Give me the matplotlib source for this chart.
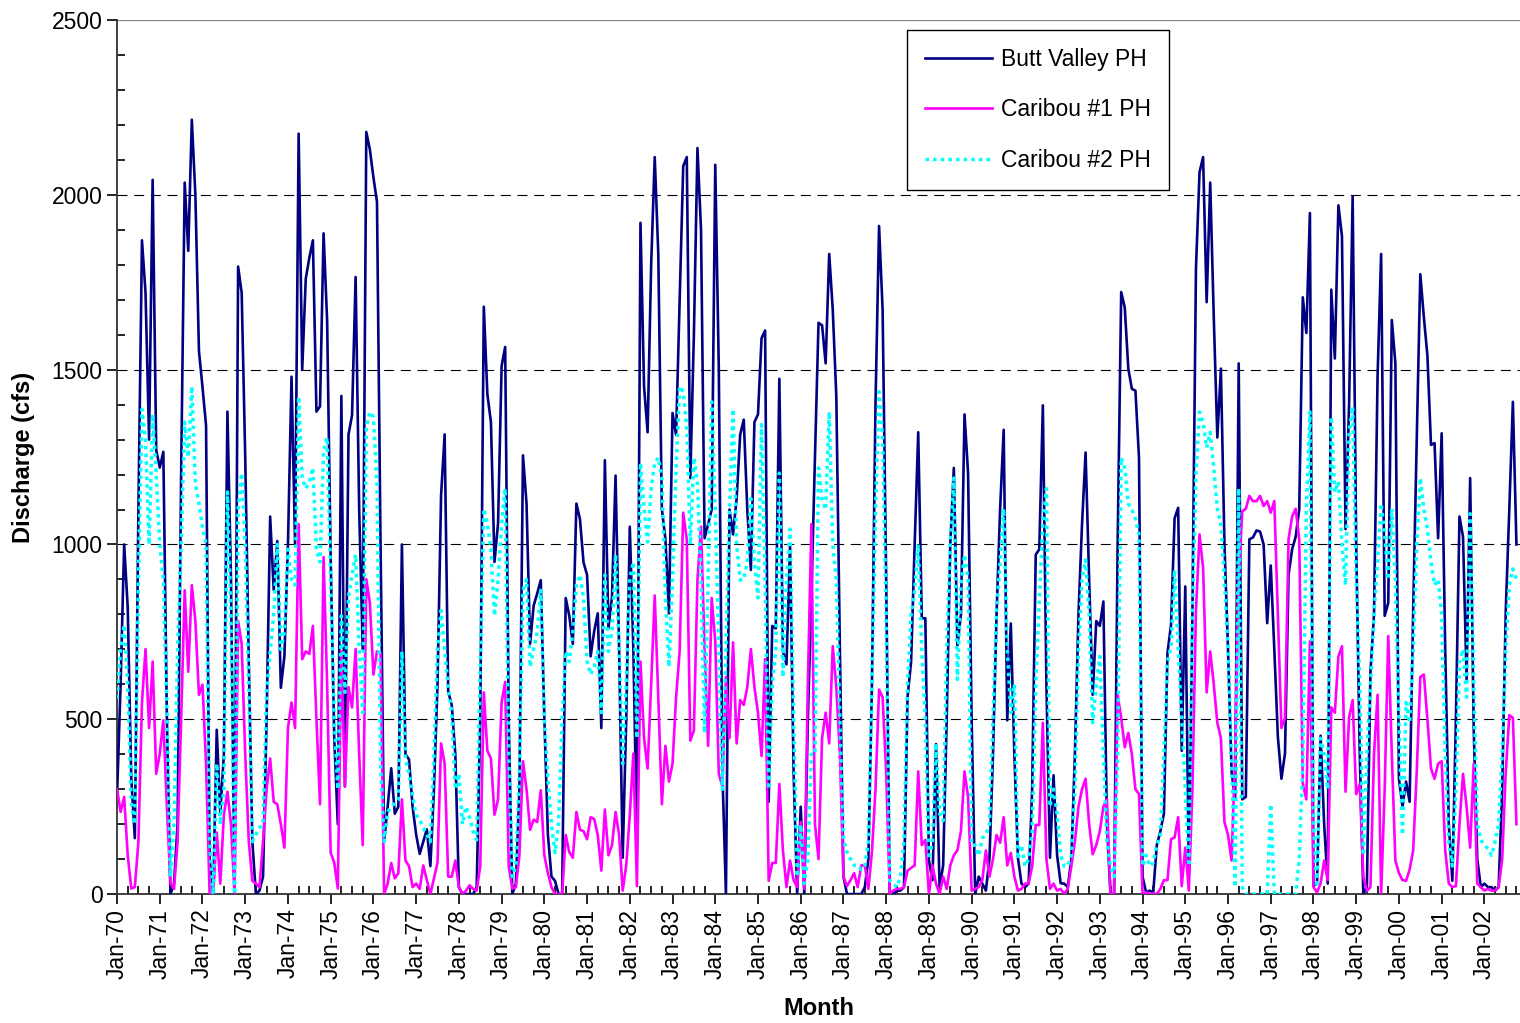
import numpy as np
import matplotlib
matplotlib.use('Agg')
import matplotlib.pyplot as plt
from matplotlib.ticker import MultipleLocator

# Caudales mensuales (cfs), enero 1970 - octubre 2002
butt_valley = [
    280, 600, 1000, 820, 330, 160, 1100, 1870, 1720, 1300, 2043, 1270,
    1220, 1265, 500, 0, 30, 200, 1200, 2035, 1840, 2215, 2000, 1554,
    1450, 1340, 100, 0, 470, 230, 400, 1380, 900, 0, 1795, 1720,
    1250, 665, 150, 0, 10, 50, 500, 1080, 870, 1010, 590, 680,
    1000, 1480, 1000, 2175, 1500, 1760, 1820, 1870, 1380, 1395, 1890, 1640,
    956, 446, 200, 1425, 308, 1314, 1370, 1765, 1100, 700, 2180, 2130,
    2050, 1980, 1000, 150, 250, 360, 230, 250, 1000, 400, 385, 250,
    170, 115, 150, 185, 80, 300, 600, 1140, 1315, 580, 540, 400,
    20, 0, 0, 0, 0, 20, 500, 1680, 1430, 1350, 950, 1060,
    1510, 1565, 500, 0, 30, 300, 1255, 1117, 716, 825, 860, 898,
    504, 170, 50, 38, 0, 0, 847, 796, 716, 1117, 1073, 949,
    913, 680, 752, 803, 475, 1241, 760, 850, 1197, 700, 104, 500,
    1051, 700, 150, 1920, 1452, 1321, 1800, 2108, 1831, 1102, 1015, 803,
    1376, 1314, 1700, 2082, 2108, 1190, 1600, 2134, 1900, 1018, 1058, 1100,
    2086, 1500, 350, 0, 1100, 1029, 1131, 1314, 1357, 1100, 927, 1350,
    1372, 1590, 1612, 264, 767, 760, 1474, 694, 657, 1000, 350, 0,
    250, 0, 500, 850, 1250, 1634, 1627, 1518, 1831, 1671, 1423, 700,
    50, 0, 0, 0, 0, 0, 20, 100, 600, 1400, 1911, 1671,
    900, 0, 0, 10, 10, 20, 563, 665, 1000, 1321, 789, 789,
    96, 40, 429, 20, 82, 500, 1000, 1219, 711, 800, 1372, 1204,
    500, 0, 50, 30, 10, 100, 400, 800, 1102, 1328, 497, 774,
    400, 104, 30, 20, 30, 300, 971, 986, 1398, 600, 104, 340,
    111, 31, 30, 20, 100, 400, 800, 1058, 1263, 900, 570, 781,
    767, 837, 200, 0, 0, 1000, 1722, 1678, 1503, 1445, 1440, 1248,
    50, 5, 10, 5, 140, 180, 230, 690, 770, 1075, 1105, 410,
    880, 60, 800, 1790, 2065, 2108, 1693, 2035, 1650, 1306, 1503, 1000,
    700, 350, 270, 1518, 271, 278, 1015, 1020, 1040, 1037, 1000, 775,
    940, 700, 450, 330, 402, 913, 986, 1022, 1100, 1707, 1605, 1948,
    23, 30, 453, 200, 30, 1729, 1532, 1970, 1882, 1044, 1400, 1995,
    1000, 400, 0, 20, 636, 800, 1481, 1831, 796, 833, 1642, 1518,
    330, 250, 322, 264, 811, 1300, 1773, 1650, 1540, 1285, 1290, 1018,
    1318, 700, 200, 38, 500, 1080, 1022, 614, 1190, 475, 100, 20,
    30, 20, 20, 10, 20, 300, 811, 1102, 1408, 1000,
]

caribou1 = [
    300, 235, 278, 111, 16, 20, 150, 548, 701, 475, 665, 344,
    402, 497, 250, 30, 15, 150, 500, 869, 636, 884, 781, 570,
    599, 373, 0, 0, 176, 30, 227, 293, 200, 0, 781, 716,
    400, 150, 38, 30, 20, 150, 300, 388, 264, 257, 200, 133,
    475, 548, 475, 1058, 672, 694, 687, 767, 500, 257, 964, 600,
    118, 90, 16, 694, 308, 592, 534, 701, 400, 140, 901, 833,
    628, 694, 690, 0, 30, 89, 45, 60, 271, 96, 80, 20,
    30, 15, 82, 40, 0, 45, 90, 431, 373, 50, 50, 96,
    20, 0, 10, 25, 15, 10, 80, 577, 410, 388, 227, 271,
    548, 607, 80, 16, 20, 111, 380, 300, 184, 213, 206, 297,
    111, 60, 20, 0, 0, 0, 169, 120, 104, 235, 184, 180,
    157, 220, 215, 169, 67, 242, 111, 140, 235, 169, 10, 82,
    227, 402, 23, 665, 446, 359, 600, 854, 563, 257, 424, 322,
    373, 563, 694, 1091, 1015, 439, 468, 898, 1051, 700, 424, 847,
    723, 344, 308, 621, 446, 720, 431, 555, 541, 592, 701, 592,
    519, 395, 672, 38, 89, 89, 315, 125, 20, 96, 40, 20,
    206, 15, 600, 1058, 200, 100, 446, 519, 431, 709, 592, 400,
    50, 23, 40, 60, 20, 82, 82, 15, 120, 300, 585, 563,
    350, 0, 10, 15, 15, 20, 67, 75, 82, 351, 140, 155,
    0, 82, 30, 0, 50, 15, 82, 111, 125, 180, 351, 278,
    10, 15, 20, 40, 125, 50, 100, 169, 147, 220, 82, 118,
    50, 10, 15, 30, 30, 80, 198, 198, 490, 100, 15, 30,
    10, 15, 0, 15, 80, 150, 250, 300, 330, 200, 114, 140,
    180, 250, 271, 0, 0, 570, 504, 420, 461, 400, 300, 286,
    0, 5, 0, 2, 0, 15, 40, 40, 157, 162, 220, 23,
    133, 10, 300, 811, 1029, 934, 577, 694, 600, 490, 446, 206,
    169, 96, 400, 898, 1095, 1102, 1139, 1124, 1124, 1139, 1110, 1124,
    1091, 1124, 800, 475, 504, 1015, 1080, 1102, 1015, 315, 271, 723,
    20, 5, 30, 96, 40, 534, 519, 680, 709, 293, 504, 555,
    286, 315, 50, 9, 20, 400, 570, 0, 300, 738, 400, 96,
    60, 40, 38, 70, 125, 350, 621, 628, 500, 359, 330, 373,
    380, 125, 30, 20, 23, 200, 344, 250, 133, 373, 30, 20,
    10, 15, 10, 10, 20, 100, 350, 512, 504, 200,
]

caribou2 = [
    560, 700, 770, 600, 260, 200, 900, 1387, 1300, 1000, 1372, 1200,
    1000, 900, 530, 50, 200, 700, 1000, 1350, 1250, 1452, 1175, 1117,
    1050, 1000, 150, 0, 373, 200, 300, 1150, 800, 0, 1100, 1204,
    1000, 600, 150, 170, 190, 200, 577, 694, 800, 1000, 700, 750,
    986, 900, 884, 1423, 1190, 1160, 1180, 1219, 986, 950, 1263, 1306,
    900, 500, 300, 796, 577, 850, 913, 971, 700, 519, 1335, 1379,
    1365, 1175, 373, 150, 235, 250, 260, 270, 694, 388, 344, 280,
    227, 213, 190, 170, 150, 400, 700, 811, 700, 592, 519, 300,
    344, 200, 250, 220, 180, 155, 665, 1102, 1058, 986, 796, 898,
    1058, 1160, 400, 50, 80, 350, 869, 900, 650, 701, 750, 869,
    500, 330, 198, 118, 205, 500, 694, 665, 750, 884, 913, 847,
    665, 628, 650, 694, 519, 913, 694, 752, 971, 700, 373, 600,
    905, 950, 446, 1233, 1102, 1007, 1160, 1233, 1248, 1190, 850, 650,
    900, 1219, 1452, 1437, 1335, 1000, 1248, 1175, 900, 461, 900, 1408,
    1100, 700, 300, 700, 1102, 1387, 1000, 898, 900, 950, 1131, 950,
    847, 1343, 900, 300, 600, 700, 1204, 621, 900, 1044, 500, 50,
    198, 30, 100, 400, 400, 1219, 1131, 1100, 1379, 1000, 900, 500,
    155, 120, 100, 82, 82, 70, 82, 150, 600, 1100, 1437, 1306,
    800, 40, 30, 20, 50, 150, 600, 800, 869, 1000, 694, 500,
    100, 150, 431, 230, 210, 700, 1000, 1190, 614, 884, 971, 900,
    140, 140, 110, 160, 170, 200, 500, 811, 950, 1102, 700, 519,
    600, 100, 140, 80, 100, 180, 600, 840, 1058, 1160, 250, 300,
    230, 110, 80, 80, 110, 300, 700, 900, 956, 800, 490, 600,
    680, 400, 150, 80, 50, 400, 1248, 1219, 1117, 1100, 1073, 1029,
    80, 111, 80, 90, 140, 170, 400, 665, 709, 927, 700, 500,
    300, 80, 800, 1204, 1379, 1350, 1277, 1321, 1219, 1102, 1058, 900,
    700, 388, 20, 1160, 20, 0, 0, 0, 0, 0, 0, 0,
    257, 0, 0, 0, 0, 0, 0, 0, 100, 373, 1100, 1379,
    200, 20, 446, 400, 300, 1365, 1150, 1180, 1000, 884, 1321, 1394,
    900, 600, 111, 400, 592, 800, 950, 1117, 1029, 900, 1102, 900,
    500, 169, 548, 490, 700, 1000, 1190, 1100, 1044, 950, 884, 900,
    800, 400, 150, 80, 300, 665, 700, 563, 1088, 600, 200, 155,
    140, 130, 111, 150, 200, 400, 700, 884, 930, 900,
]

tick_labels = ['Jan-70', 'Jan-71', 'Jan-72', 'Jan-73', 'Jan-74', 'Jan-75',
               'Jan-76', 'Jan-77', 'Jan-78', 'Jan-79', 'Jan-80', 'Jan-81',
               'Jan-82', 'Jan-83', 'Jan-84', 'Jan-85', 'Jan-86', 'Jan-87',
               'Jan-88', 'Jan-89', 'Jan-90', 'Jan-91', 'Jan-92', 'Jan-93',
               'Jan-94', 'Jan-95', 'Jan-96', 'Jan-97', 'Jan-98', 'Jan-99',
               'Jan-00', 'Jan-01', 'Jan-02']

plt.rcParams['font.family'] = ['Liberation Sans', 'DejaVu Sans']

fig = plt.figure(figsize=(15.2, 10.23), dpi=100)
ax = fig.add_axes([0.077, 0.126, 0.923, 0.8544])

ax.plot(np.arange(len(butt_valley)), butt_valley, color='#000080', lw=1.9,
        label='Butt Valley PH', zorder=3)
ax.plot(np.arange(len(caribou1)), caribou1, color='#FF00FF', lw=1.9,
        label='Caribou #1 PH', zorder=4)
ax.plot(np.arange(len(caribou2)), caribou2, color='#00FFFF', lw=2.5,
        linestyle=(0, (1, 1.2)), label='Caribou #2 PH', zorder=5)

ax.set_xlim(0, 394)
ax.set_ylim(0, 2500)

for v in [500, 1000, 1500, 2000]:
    ax.axhline(v, color='black', lw=0.8, linestyle=(0, (9, 6)), zorder=1)
ax.axhline(2500, color='#808080', lw=1.6, zorder=1)

ax.set_xticks(np.arange(len(tick_labels)) * 12)
ax.set_xticklabels(tick_labels, rotation=90, fontsize=16.5)
ax.xaxis.set_minor_locator(MultipleLocator(3))
ax.yaxis.set_major_locator(MultipleLocator(500))
ax.yaxis.set_minor_locator(MultipleLocator(100))
ax.tick_params(axis='y', labelsize=16.5)
ax.tick_params(which='major', direction='out', length=7, width=1.2)
ax.tick_params(which='minor', direction='in', length=6, width=1.2)

for s in ['top', 'right']:
    ax.spines[s].set_visible(False)
for s in ['left', 'bottom']:
    ax.spines[s].set_linewidth(1.3)
    ax.spines[s].set_color('#333333')

ax.set_xlabel('Month', fontsize=17, fontweight='bold', labelpad=13)
ax.set_ylabel('Discharge (cfs)', fontsize=17, fontweight='bold', labelpad=12)

leg = ax.legend(loc='upper left', bbox_to_anchor=(0.563, 0.989), fontsize=16.5,
                handlelength=2.9, handletextpad=0.4, labelspacing=1.2,
                borderpad=0.8, borderaxespad=0, fancybox=False, framealpha=1,
                edgecolor='black')
leg.get_frame().set_linewidth(1.0)

fig.savefig('out.png', dpi=100)
